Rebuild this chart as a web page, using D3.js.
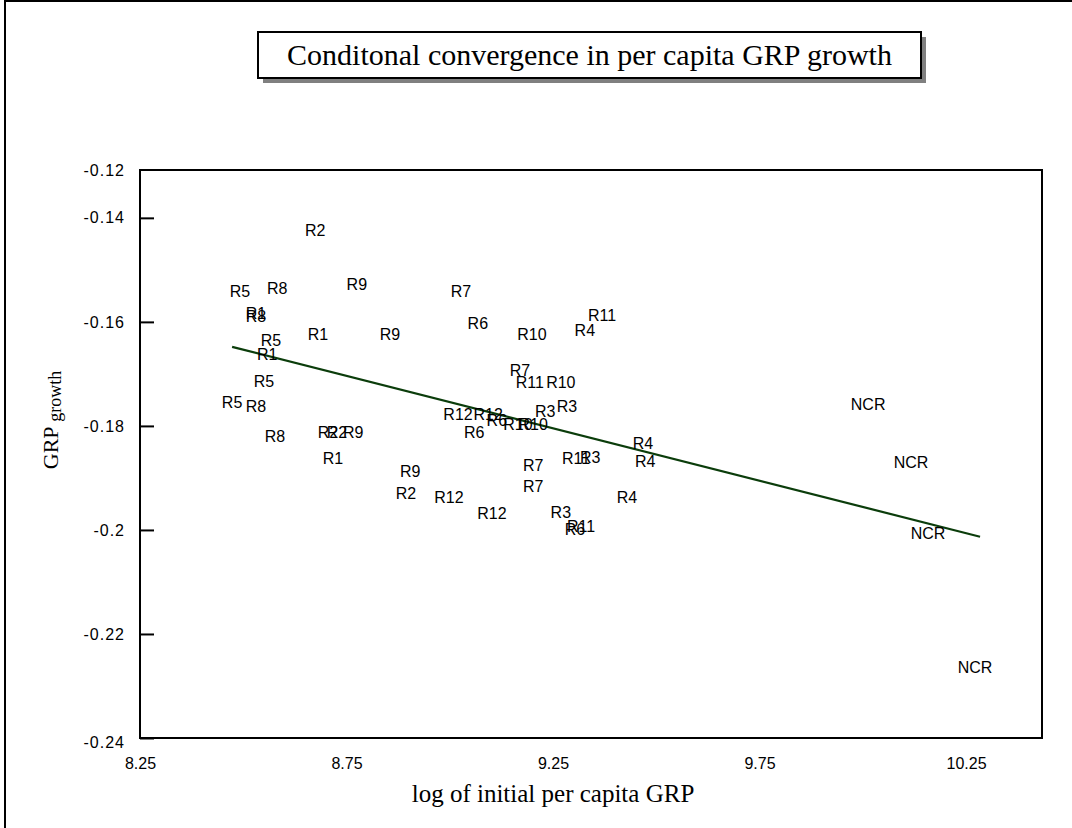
<!DOCTYPE html>
<html>
<head>
<meta charset="utf-8">
<script src="https://cdn.jsdelivr.net/npm/d3@7"></script>
<style>
  body { margin: 0; background: #fff; }
  svg { display: block; }
</style>
</head>
<body>
<script>
// Data
var regionLabels = ["R2","R5","R8","R9","R7","R1","R8","R5","R1","R9","R6","R10","R4","R11",
  "R1","R7","R5","R11","R10","R5","R8","R3","R3","R12","R12","R6","R10","R10","R8","R2","R2",
  "R9","R6","R4","R1","R11","R3","R7","R4","R7","R9","R2","R12","R4","R12","R3","R6","R11",
  "NCR","NCR","NCR","NCR"];
var logInitialGRP = [8.674, 8.492, 8.582, 8.775, 9.027, 8.531, 8.531, 8.567, 8.681, 8.855, 9.068,
  9.199, 9.327, 9.369, 8.558, 9.170, 8.550, 9.194, 9.269, 8.473, 8.531, 9.231, 9.284, 9.020, 9.093,
  9.114, 9.165, 9.202, 8.577, 8.705, 8.727, 8.766, 9.059, 9.468, 8.717, 9.306, 9.340, 9.202, 9.473,
  9.202, 8.904, 8.894, 8.998, 9.429, 9.102, 9.269, 9.303, 9.318, 10.013, 10.117, 10.158, 10.272];
var grpGrowth = [-0.1425, -0.1542, -0.1535, -0.1527, -0.1542, -0.1583, -0.1590, -0.1635, -0.1625,
  -0.1625, -0.1602, -0.1625, -0.1617, -0.1588, -0.1662, -0.1694, -0.1715, -0.1717, -0.1717, -0.1754,
  -0.1763, -0.1773, -0.1763, -0.1777, -0.1777, -0.1790, -0.1798, -0.1798, -0.1821, -0.1812, -0.1812,
  -0.1812, -0.1812, -0.1833, -0.1863, -0.1863, -0.1860, -0.1875, -0.1869, -0.1917, -0.1888, -0.1929,
  -0.1938, -0.1938, -0.1969, -0.1967, -0.1998, -0.1994, -0.1758, -0.1871, -0.2006, -0.2265];

// fitted line end points
var fitX = [8.473, 10.284];
var fitY = [-0.1648, -0.2013];

var xTickValues = [8.25, 8.75, 9.25, 9.75, 10.25];
var xTickLabels = ["8.25", "8.75", "9.25", "9.75", "10.25"];
var yTickValues = [-0.24, -0.22, -0.2, -0.18, -0.16, -0.14, -0.1308];
var yTickLabels = ["-0.24", "-0.22", "-0.2", "-0.18", "-0.16", "-0.14", "-0.12"];

var svgWidth = 1072;
var svgHeight = 828;
var plot = { left: 140, right: 1042, top: 170, bottom: 738 };

var svg = d3.select("body")
  .append("svg")
  .attr("width", svgWidth)
  .attr("height", svgHeight);

// outer border
svg.append("rect")
  .attr("x", 5).attr("y", 1)
  .attr("width", 1200).attr("height", 1000)
  .attr("fill", "none")
  .attr("stroke", "#000")
  .attr("stroke-width", 2);

var x = d3.scaleLinear().domain([8.25, 10.434]).range([plot.left, plot.right]);
var y = d3.scaleLinear().domain([-0.24, -0.1308]).range([plot.bottom, plot.top]);

// title box with shadow
var tb = { x: 258, y: 32, w: 663, h: 46 };
svg.append("rect")
  .attr("x", tb.x + 5).attr("y", tb.y + 5)
  .attr("width", tb.w).attr("height", tb.h)
  .attr("fill", "#808080");
svg.append("rect")
  .attr("x", tb.x).attr("y", tb.y)
  .attr("width", tb.w).attr("height", tb.h)
  .attr("fill", "#fff")
  .attr("stroke", "#000")
  .attr("stroke-width", 2);
svg.append("text")
  .attr("x", tb.x + tb.w / 2)
  .attr("y", tb.y + tb.h / 2 + 10)
  .attr("text-anchor", "middle")
  .style("font-family", "Liberation Serif, Times New Roman, serif")
  .style("font-size", "30px")
  .text("Conditonal convergence in per capita GRP growth");

// plot frame
svg.append("rect")
  .attr("x", plot.left).attr("y", plot.top)
  .attr("width", plot.right - plot.left)
  .attr("height", plot.bottom - plot.top)
  .attr("fill", "none")
  .attr("stroke", "#000")
  .attr("stroke-width", 2);

// y axis: inward ticks
var leftAxis = d3.axisLeft(y)
  .tickValues(yTickValues)
  .tickSize(-14)
  .tickPadding(15)
  .tickFormat((d, i) => yTickLabels[i]);
var yAxisG = svg.append("g")
  .attr("transform", `translate(${plot.left}, 0)`)
  .call(leftAxis);
yAxisG.select(".domain").remove();
yAxisG.selectAll(".tick line").attr("stroke", "#000").attr("stroke-width", 2);
yAxisG.selectAll(".tick text")
  .style("font-family", "Liberation Sans, Arial, sans-serif")
  .style("font-size", "16px")
  .style("letter-spacing", "1px")
  .attr("fill", "#000");
yAxisG.selectAll(".tick").filter((d, i) => i === 0)
  .select("text").attr("dy", "0.6em");
yAxisG.selectAll(".tick").filter((d, i) => i === yTickValues.length - 1)
  .select("line").remove();

// x axis: labels only
var bottomAxis = d3.axisBottom(x)
  .tickValues(xTickValues)
  .tickSize(0)
  .tickPadding(20)
  .tickFormat((d, i) => xTickLabels[i]);
var xAxisG = svg.append("g")
  .attr("transform", `translate(0, ${plot.bottom})`)
  .call(bottomAxis);
xAxisG.select(".domain").remove();
xAxisG.selectAll(".tick text")
  .style("font-family", "Liberation Sans Narrow, Liberation Sans, Arial, sans-serif")
  .style("font-stretch", "condensed")
  .style("font-size", "16px")
  .attr("fill", "#000");

// axis titles
svg.append("text")
  .attr("x", 553)
  .attr("y", 802)
  .attr("text-anchor", "middle")
  .style("font-family", "Liberation Serif, Times New Roman, serif")
  .style("font-size", "25px")
  .text("log of initial per capita GRP");

var yTitle = svg.append("text")
  .attr("transform", "translate(58, 420) rotate(-90)")
  .attr("text-anchor", "middle")
  .style("font-family", "Liberation Serif, Times New Roman, serif");
yTitle.append("tspan").style("font-size", "22px").text("GRP ");
yTitle.append("tspan").style("font-size", "18px").attr("dy", 3).text("growth");

// fitted line
var fitData = fitX.map((d, i) => ({ x: d, y: fitY[i] }));
var line = d3.line().x(d => x(d.x)).y(d => y(d.y));
svg.append("path")
  .attr("d", line(fitData))
  .attr("fill", "none")
  .attr("stroke", "#0b3d0b")
  .attr("stroke-width", 2.2);

// point labels
var points = regionLabels.map((d, i) => ({ label: d, x: logInitialGRP[i], y: grpGrowth[i] }));
svg.append("g")
  .selectAll("text")
  .data(points)
  .enter()
  .append("text")
  .attr("x", d => x(d.x))
  .attr("y", d => y(d.y))
  .attr("dy", "0.35em")
  .attr("text-anchor", "middle")
  .style("font-family", "Liberation Sans, Arial, sans-serif")
  .style("font-size", "16px")
  .attr("fill", "#000")
  .text(d => d.label);
</script>
</body>
</html>
